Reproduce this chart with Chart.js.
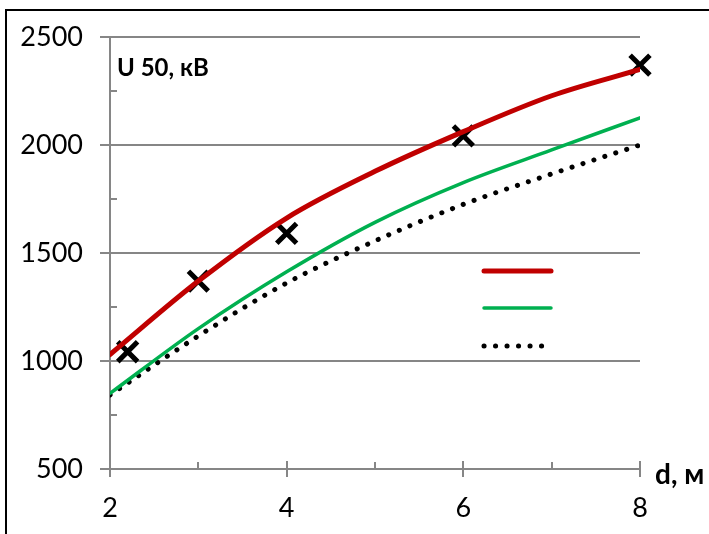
<!DOCTYPE html>
<html><head><meta charset="utf-8">
<script src="https://cdn.jsdelivr.net/npm/chart.js@4/dist/chart.umd.min.js"></script>
<style>html,body{margin:0;padding:0;background:#fff;overflow:hidden}</style>
</head><body>
<canvas id="c" width="709" height="534"></canvas>
<script>
// ---- data ----
const distances   = [2, 3, 4, 5, 6, 7, 8];
const curveRed    = [1030, 1370, 1662, 1878, 2062, 2228, 2350];
const curveGreen  = [850, 1150, 1413, 1642, 1826, 1977, 2126];
const curveDotted = [843, 1116, 1361, 1556, 1725, 1866, 2000];
const measuredD   = [2.2, 3, 4, 6, 8];
const measuredU   = [1043, 1370, 1591, 2042, 2370];
const xTickValues = [2, 4, 6, 8];
const xMinorValues = [3, 5, 7];
const yTickValues = [500, 1000, 1500, 2000, 2500];
const yMinorValues = [750, 1250, 1750, 2250];
const yTitle = 'U 50, кВ';
const xTitle = 'd, м';

const AXIS = '#868686';
const FONT = 'Lato';

const toXY = (xs, ys) => xs.map((x, i) => ({x, y: ys[i]}));

const decor = {
  id: 'decor',
  beforeDraw(chart) {
    const ctx = chart.ctx;
    ctx.save();
    ctx.fillStyle = '#fff';
    ctx.fillRect(0, 0, chart.width, chart.height);
    ctx.strokeStyle = '#000';
    ctx.lineWidth = 2;
    ctx.beginPath();
    ctx.moveTo(6, chart.height + 5);
    ctx.lineTo(6, 10);
    ctx.lineTo(chart.width + 5, 10);
    ctx.stroke();
    ctx.restore();
  },
  afterDraw(chart) {
    const ctx = chart.ctx;
    const a = chart.chartArea;
    const xs = chart.scales.x, ys = chart.scales.y;
    ctx.save();
    ctx.strokeStyle = AXIS;
    ctx.lineWidth = 2;
    ctx.beginPath();
    xTickValues.forEach(v => {
      const px = Math.round(xs.getPixelForValue(v));
      ctx.moveTo(px, a.bottom - 8); ctx.lineTo(px, a.bottom + 8);
    });
    xMinorValues.forEach(v => {
      const px = Math.round(xs.getPixelForValue(v));
      ctx.moveTo(px, a.bottom - 7); ctx.lineTo(px, a.bottom);
    });
    yMinorValues.forEach(v => {
      const py = Math.round(ys.getPixelForValue(v));
      ctx.moveTo(a.left, py); ctx.lineTo(a.left + 7, py);
    });
    ctx.stroke();

    // titles
    ctx.fillStyle = '#000';
    ctx.font = 'bold 24px ' + FONT;
    ctx.textBaseline = 'middle';
    ctx.textAlign = 'left';
    ctx.fillText(yTitle, a.left + 7, a.top + 31);
    ctx.font = 'bold 28px ' + FONT;
    ctx.fillText(xTitle, a.right + 15, a.bottom + 6);

    // legend (line samples only)
    const ds = chart.data.datasets;
    const ly = [234, 271, 309];
    [0, 1, 2].forEach((di, k) => {
      const d = ds[di];
      ctx.strokeStyle = d.borderColor;
      ctx.lineWidth = d.borderWidth;
      ctx.lineCap = d.borderCapStyle || 'round';
      ctx.setLineDash(d.borderDash || []);
      ctx.beginPath();
      ctx.moveTo(a.left + 374, a.top + ly[k]);
      ctx.lineTo(a.left + (di === 2 ? 433 : 441), a.top + ly[k]);
      ctx.stroke();
    });
    ctx.restore();
  }
};

new Chart(document.getElementById('c'), {
  type: 'scatter',
  data: {
    datasets: [
      { data: toXY(distances, curveRed), showLine: true, borderColor: '#C00000', borderWidth: 5,
        borderCapStyle: 'round', pointRadius: 0, cubicInterpolationMode: 'monotone' },
      { data: toXY(distances, curveGreen), showLine: true, borderColor: '#00B050', borderWidth: 3.5,
        borderCapStyle: 'round', pointRadius: 0, cubicInterpolationMode: 'monotone' },
      { data: toXY(distances, curveDotted), showLine: true, borderColor: '#000', borderWidth: 5,
        borderCapStyle: 'round', borderDash: [0.1, 11.4], pointRadius: 0, cubicInterpolationMode: 'monotone' },
      { data: toXY(measuredD, measuredU), showLine: false, clip: false, pointStyle: 'crossRot', pointRadius: 14,
        borderColor: '#000', backgroundColor: '#000', pointBorderWidth: 5, borderWidth: 5 }
    ]
  },
  options: {
    responsive: false,
    animation: false,
    devicePixelRatio: 1,
    layout: { padding: { top: 37, right: 69, bottom: 0, left: 0 } },
    plugins: { legend: { display: false }, tooltip: { enabled: false } },
    scales: {
      x: {
        type: 'linear', min: 2, max: 8,
        afterBuildTicks: s => { s.ticks = xTickValues.map(v => ({value: v})); },
        afterFit: s => { s.height = 65; },
        ticks: { color: '#000', font: { family: FONT, size: 27 }, padding: 23, maxRotation: 0,
                 callback: v => String(v) },
        grid: { drawOnChartArea: false, drawTicks: false },
        border: { display: true, color: AXIS, width: 2 }
      },
      y: {
        min: 500, max: 2500,
        afterBuildTicks: s => { s.ticks = yTickValues.map(v => ({value: v})); },
        afterFit: s => { s.width = 110; },
        ticks: { color: '#000', font: { family: FONT, size: 27 }, padding: 17,
                 callback: v => String(v) },
        grid: { color: AXIS, lineWidth: 2, tickLength: 10, drawTicks: true },
        border: { display: true, color: AXIS, width: 2 }
      }
    }
  },
  plugins: [decor]
});
</script>
</body></html>
